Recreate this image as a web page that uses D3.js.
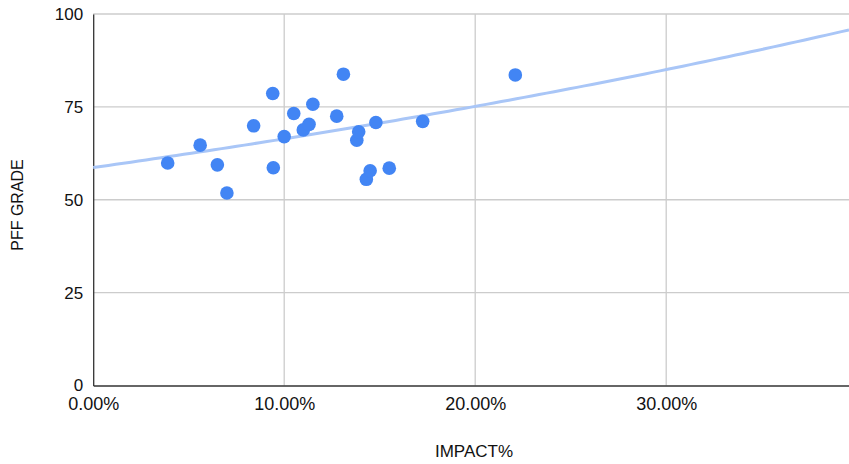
<!DOCTYPE html>
<html>
<head>
<meta charset="utf-8">
<script src="https://cdn.jsdelivr.net/npm/d3@7"></script>
<style type="text/css">
  body{
    margin: 0px;
    background: white;
  }
  svg text{
    font-family: 'Liberation Sans', Arial, sans-serif;
    fill: #111;
  }
  .xlab text{
    font-family: 'Liberation Sans Narrow', 'Arial Narrow', 'Liberation Sans', sans-serif;
  }
</style>
</head>
<body>

<svg id="chart" width="849" height="464"></svg>

<script>

// IMPACT% (fraction) and PFF GRADE for each player
var impact = [0.039, 0.056, 0.065, 0.070, 0.084, 0.094, 0.0943, 0.100, 0.105, 0.110, 0.113,
              0.115, 0.1275, 0.131, 0.138, 0.139, 0.143, 0.145, 0.148, 0.155, 0.1725, 0.221];
var grade  = [59.9, 64.7, 59.4, 51.8, 69.9, 78.6, 58.6, 67.0, 73.2, 68.8, 70.3,
              75.7, 72.5, 83.8, 66.0, 68.3, 55.5, 57.8, 70.8, 58.5, 71.1, 83.6];

// exponential trendline as shown: grade = trendA * e^(trendK * impact)
var trendA = 58.67;
var trendK = 1.237;

var xTicks = [0, 0.1, 0.2, 0.3];
var yTicks = [0, 25, 50, 75, 100];

var xTitle = 'IMPACT%';
var yTitle = 'PFF GRADE';

var plotLeft = 93.2, plotRight = 849, plotTop = 14, plotBottom = 385.5;

var x = d3.scaleLinear().domain([0, 0.3957]).range([plotLeft, plotRight]);
var y = d3.scaleLinear().domain([0, 100]).range([plotBottom, plotTop]);

var svg = d3.select('#chart');

// gridlines
svg.append('g')
  .selectAll('line')
  .data(yTicks.filter(function(d) { return d > 0; }))
  .enter().append('line')
  .attr('x1', plotLeft).attr('x2', plotRight)
  .attr('y1', function(d) { return y(d); })
  .attr('y2', function(d) { return y(d); })
  .attr('stroke', '#cccccc').attr('stroke-width', 1.3);

svg.append('g')
  .selectAll('line')
  .data(xTicks.filter(function(d) { return d > 0; }))
  .enter().append('line')
  .attr('x1', function(d) { return x(d); })
  .attr('x2', function(d) { return x(d); })
  .attr('y1', plotTop).attr('y2', plotBottom)
  .attr('stroke', '#cccccc').attr('stroke-width', 1.3);

// axes
var xAxis = d3.axisBottom(x).tickValues(xTicks).tickSize(0).tickPadding(11.5)
  .tickFormat(function(d) { return (d * 100).toFixed(2) + '%'; });
var yAxis = d3.axisLeft(y).tickValues(yTicks).tickSize(0).tickPadding(10);

var gx = svg.append('g').attr('class', 'xlab')
  .attr('transform', 'translate(0,' + plotBottom + ')').call(xAxis);
var gy = svg.append('g').attr('transform', 'translate(' + plotLeft + ',0)').call(yAxis);

gx.attr('font-size', 18).attr('font-family', null);
gy.attr('font-size', 17).attr('font-family', null);
gx.select('.domain').attr('stroke', '#333').attr('stroke-width', 1.3);
gy.select('.domain').attr('stroke', '#333').attr('stroke-width', 1.3);
gx.selectAll('text').attr('fill', '#111');
gy.selectAll('text').attr('fill', '#111');

// trendline
var trend = d3.range(0, 101).map(function(i) {
  var v = x.domain()[1] * i / 100;
  return [v, trendA * Math.exp(trendK * v)];
});

svg.append('path')
  .datum(trend)
  .attr('fill', 'none')
  .attr('stroke', '#a9c6f7')
  .attr('stroke-width', 3)
  .attr('d', d3.line()
    .x(function(d) { return x(d[0]); })
    .y(function(d) { return y(d[1]); }));

// points
svg.append('g')
  .selectAll('circle')
  .data(impact)
  .enter().append('circle')
  .attr('cx', function(d) { return x(d); })
  .attr('cy', function(d, i) { return y(grade[i]); })
  .attr('r', 6.8)
  .attr('fill', '#4285f4');

// titles
svg.append('text')
  .attr('x', 474)
  .attr('y', 456.5)
  .attr('text-anchor', 'middle')
  .attr('font-size', '17px')
  .text(xTitle);

svg.append('text')
  .attr('transform', 'translate(23.3,205) rotate(-90)')
  .attr('text-anchor', 'middle')
  .attr('font-size', '16px')
  .text(yTitle);

</script>

</body>
</html>
